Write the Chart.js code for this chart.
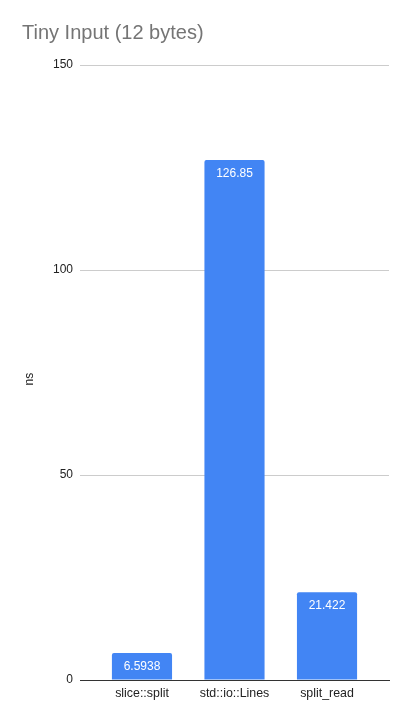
<!DOCTYPE html>
<html>
<head>
<meta charset="utf-8">
<script src="https://cdn.jsdelivr.net/npm/chart.js@4/dist/chart.umd.min.js"></script>
<style>
  html, body { margin: 0; padding: 0; background: #fff; }
  #wrap { width: 410px; height: 720px; }
</style>
</head>
<body>
<div id="wrap"><canvas id="chart"></canvas></div>
<script>
/* DATA */
const categories = ["slice::split", "std::io::Lines", "split_read"];
const timings = [6.5938, 126.85, 21.422];
const yTicks = [0, 50, 100, 150];

const FONT = "'Liberation Sans', Arial, sans-serif";

/* VALUE LABELS INSIDE BARS */
const barLabels = {
  id: "barLabels",
  afterDatasetsDraw(chart) {
    const ctx = chart.ctx;
    const meta = chart.getDatasetMeta(0);
    ctx.save();
    ctx.font = "12px " + FONT;
    ctx.fillStyle = "#ffffff";
    ctx.textAlign = "center";
    ctx.textBaseline = "middle";
    meta.data.forEach((bar, i) => {
      ctx.fillText(String(timings[i]), bar.x, bar.y + 14);
    });
    ctx.restore();
  }
};

/* RENDER CHART */
new Chart(document.getElementById("chart"), {
  type: "bar",
  data: {
    datasets: [{
      data: timings.map((v, i) => ({ x: i, y: v })),
      backgroundColor: "#4285f4",
      borderRadius: { topLeft: 2, topRight: 2 },
      borderSkipped: false,
      categoryPercentage: 0.65,
      barPercentage: 1
    }]
  },
  options: {
    responsive: true,
    maintainAspectRatio: false,
    animation: false,
    layout: { padding: { left: 22, right: 21, top: 0, bottom: 0 } },
    plugins: {
      legend: { display: false },
      tooltip: { enabled: false },
      title: {
        display: true,
        text: "Tiny Input (12 bytes)",
        align: "start",
        color: "#757575",
        font: { family: FONT, size: 20, weight: "normal" },
        padding: { top: 21, bottom: 20 }
      }
    },
    scales: {
      x: {
        type: "linear",
        offset: false,
        min: -0.67,
        max: 2.67,
        afterBuildTicks(scale) {
          scale.ticks = categories.map((c, i) => ({ value: i }));
        },
        grid: { display: false, offset: false, drawTicks: false },
        border: { color: "#333333", width: 1 },
        ticks: {
          color: "#222222",
          font: { family: FONT, size: 12.4 },
          padding: 6,
          maxRotation: 0,
          autoSkip: false,
          callback: v => categories[v]
        },
        afterFit(scale) { scale.height = 40; }
      },
      y: {
        min: 0,
        max: 150,
        afterBuildTicks(scale) {
          scale.ticks = yTicks.map(v => ({ value: v }));
        },
        grid: {
          color: ctx => (ctx.tick && ctx.tick.value === 0 ? "#333333" : "#cccccc"),
          drawTicks: false
        },
        border: { display: false },
        ticks: {
          color: "#222222",
          font: { family: FONT, size: 12 },
          padding: 7
        },
        title: {
          display: true,
          text: "ns    ",
          color: "#222222",
          font: { family: FONT, size: 12 },
          padding: 0
        },
        afterFit(scale) { scale.width = 58; }
      }
    }
  },
  plugins: [barLabels]
});
</script>
</body>
</html>
